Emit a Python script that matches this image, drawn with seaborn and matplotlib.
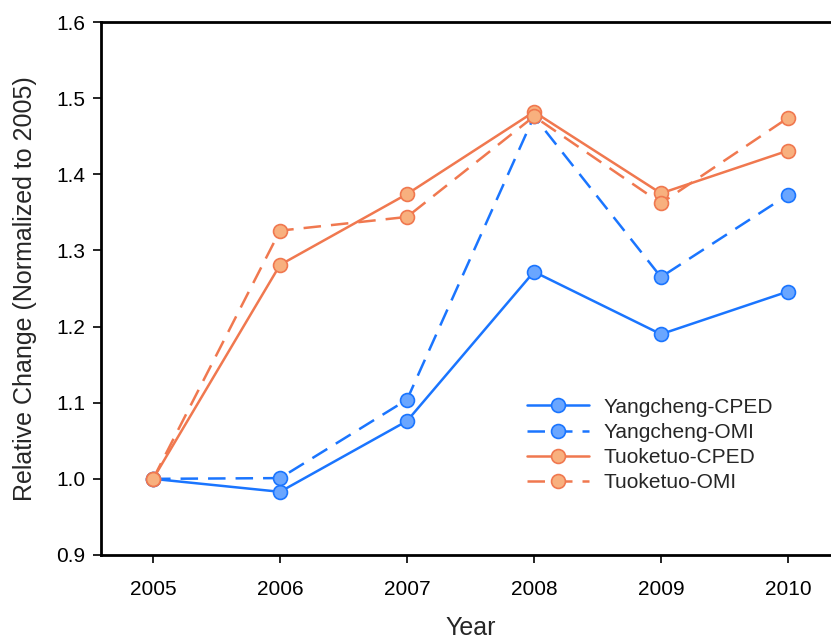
import pandas as pd
import matplotlib
matplotlib.use("Agg")
import matplotlib.pyplot as plt
import seaborn as sns

# ─────────────────────────────────────────────
# DATA
# ─────────────────────────────────────────────
years = [2005, 2006, 2007, 2008, 2009, 2010]
yangcheng_cped = [1.000, 0.983, 1.076, 1.272, 1.190, 1.246]
yangcheng_omi = [1.000, 1.001, 1.104, 1.476, 1.265, 1.373]
tuoketuo_cped = [1.000, 1.281, 1.374, 1.482, 1.375, 1.431]
tuoketuo_omi = [1.000, 1.326, 1.344, 1.476, 1.362, 1.474]

series = [
    ("Yangcheng-CPED", yangcheng_cped),
    ("Yangcheng-OMI", yangcheng_omi),
    ("Tuoketuo-CPED", tuoketuo_cped),
    ("Tuoketuo-OMI", tuoketuo_omi),
]

df = pd.concat(
    [pd.DataFrame({"Year": years, "value": v, "series": name}) for name, v in series],
    ignore_index=True,
)

# ─────────────────────────────────────────────
# STYLE
# ─────────────────────────────────────────────
sns.set_style("ticks")
plt.rcParams["font.family"] = ["Liberation Sans", "DejaVu Sans"]

BLUE = "#1a75ff"
BLUE_FACE = "#6aa6ff"
ORANGE = "#f0784f"
ORANGE_FACE = "#f8b07e"

line_col = {"Yangcheng-CPED": BLUE, "Yangcheng-OMI": BLUE,
            "Tuoketuo-CPED": ORANGE, "Tuoketuo-OMI": ORANGE}
face_col = {"Yangcheng-CPED": BLUE_FACE, "Yangcheng-OMI": BLUE_FACE,
            "Tuoketuo-CPED": ORANGE_FACE, "Tuoketuo-OMI": ORANGE_FACE}
dashed = {"Yangcheng-CPED": False, "Yangcheng-OMI": True,
          "Tuoketuo-CPED": False, "Tuoketuo-OMI": True}

# ─────────────────────────────────────────────
# PLOT
# ─────────────────────────────────────────────
fig = plt.figure(figsize=(8.31, 6.42), dpi=100)
ax = fig.add_axes([101 / 831, 1 - 555 / 642, 739 / 831, 533 / 642])

for name, _ in series:
    sub = df[df["series"] == name]
    sns.lineplot(
        data=sub, x="Year", y="value", ax=ax,
        color=line_col[name], linewidth=1.8,
        linestyle=(0, (7, 4)) if dashed[name] else "-",
        marker="o", markersize=10,
        markerfacecolor=face_col[name], markeredgecolor=line_col[name],
        markeredgewidth=1.2, label=name,
    )

ax.set_xlim(2004.59, 2010.41)
ax.set_ylim(0.9, 1.6)
ax.set_xticks(years)
ax.set_yticks([0.9, 1.0, 1.1, 1.2, 1.3, 1.4, 1.5, 1.6])
ax.set_yticklabels([f"{v:.1f}" for v in ax.get_yticks()])

for side in ["left", "bottom", "top", "right"]:
    ax.spines[side].set_linewidth(2)
    ax.spines[side].set_color("black")

ax.tick_params(axis="both", direction="out", length=6, width=1.2,
               labelsize=15, colors="black", pad=5)
ax.tick_params(axis="x", pad=12)

ax.set_xlabel("Year", fontsize=18, labelpad=12)
ax.set_ylabel("Relative Change (Normalized to 2005)", fontsize=18, labelpad=14)

ax.legend(loc="upper left", bbox_to_anchor=((508 - 101) / 739, (555 - 379) / 533),
          frameon=False, fontsize=15, handlelength=3.0, labelspacing=0.3,
          handletextpad=0.7)

fig.savefig("out.png", dpi=100)
